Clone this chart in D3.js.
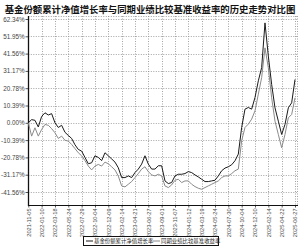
<!DOCTYPE html>
<html>
<head>
<meta charset="utf-8">
<script src="https://cdn.jsdelivr.net/npm/d3@7/dist/d3.min.js"></script>
<style>
  html, body { margin: 0; padding: 0; background: #fff; }
  svg { display: block; }
</style>
</head>
<body>
<div id="chart"></div>
<script>
/* fund vs benchmark cumulative return, 4 samples per x tick interval */
var title = '基金份额累计净值增长率与同期业绩比较基准收益率的历史走势对比图';
var seriesNames = ['基金份额累计净值增长率', '同期业绩比较基准收益率'];

var yTicks = [62.34, 51.95, 41.56, 31.17, 20.78, 10.39, 0.00, -10.39, -20.78, -31.17, -41.56];

var xLabels = [
  '2021-11-05', '2022-01-10', '2022-03-18', '2022-05-24', '2022-07-29',
  '2022-10-04', '2022-12-09', '2023-02-14', '2023-04-21', '2023-06-27',
  '2023-09-01', '2023-11-07', '2024-01-12', '2024-03-19', '2024-05-24',
  '2024-07-30', '2024-10-04', '2024-12-10', '2025-02-14', '2025-04-22',
  '2025-06-27'
];

var fundValues = [
  0, 1.9, 1.5, -2.5, 3.8, 6, 4.7, 5.5, 0, -2.8,
  -1.5, -5.7, -7.6, -9.4, -13.2, -16, -17, -20.8, -24.6, -24,
  -19.8, -20.8, -22.7, -18, -19.8, -21.7, -23.6, -27,
  -32.9, -32.9, -31.9, -32.9, -29.9, -27.8, -24.8, -19.8, -24.8, -27.8,
  -27.8, -25.8, -25.8, -34.9, -36.5, -35.9, -31.9, -30.9, -30.9, -30.5,
  -29.3, -29.9, -31.3, -32.5, -33.9, -35.3, -35.3, -34.9, -34.5, -31.9,
  -28.8, -27.2, -26.4, -25.2, -22.8, -18.8,
  -2.8, 8.2, 9.2, 8.2, 15.2, 25.2, 33.2, 60, 40, 23,
  9, 1, -7, -1, 9, 12, 26
];

var benchValues = [
  0, -8, -3, -8, -4, -1, -1.5, -3.5, -6, -9.4,
  -8, -10.5, -11, -13, -15.5, -18, -19.8, -22.7, -26, -28.3,
  -26, -25, -26, -23.6, -24.6, -26.4, -28.3, -32,
  -37.9, -38.5, -36.9, -35.3, -32.9, -30.5, -27.8, -26.4, -29.3, -31.3,
  -31.9, -30.9, -31.9, -37.9, -38.9, -37.3, -34.5, -33.9, -35.9, -34.9,
  -34.9, -36.9, -38.3, -39.3, -39.9, -38.9, -37.9, -36.9, -35.9, -34.9,
  -32.9, -31.9, -31.9, -30.5, -28.8, -27.8,
  -10.8, -2.8, -0.8, 2.2, 7.2, 17.2, 27.2, 45, 33, 15,
  1, -7, -15, -7, 3, 5, 15
];

var W = 300, H = 247;
var left = 28.3, right = 295, plotTop = 16, plotBottom = 205;
var frameRight = 297;
var FONT = 'Liberation Sans, Arial, sans-serif';
var CJK = 'Noto Sans CJK SC, sans-serif';

var svg = d3.select('#chart').append('svg')
  .attr('width', W).attr('height', H);

var x = d3.scaleLinear().domain([0, xLabels.length - 1]).range([left, right]);
var y = d3.scaleLinear().domain([-41.56, 62.34]).range([192, 19]);
var step = 0.25; // samples per tick interval

/* title */
svg.append('text')
  .attr('x', W / 2).attr('y', 13)
  .attr('text-anchor', 'middle')
  .attr('font-family', CJK).attr('font-weight', 'bold')
  .attr('font-size', 9.4).attr('fill', '#111')
  .text(title);

/* grid */
var grid = svg.append('g')
  .attr('stroke', '#8c8c8c').attr('stroke-width', 0.8)
  .attr('stroke-dasharray', '1,1.5');
grid.selectAll('line.h').data(yTicks).enter().append('line')
  .attr('x1', left).attr('x2', frameRight)
  .attr('y1', function (d) { return Math.round(y(d)) + 0.5; })
  .attr('y2', function (d) { return Math.round(y(d)) + 0.5; });
grid.selectAll('line.v').data(d3.range(1, xLabels.length)).enter().append('line')
  .attr('x1', function (d) { return Math.round(x(d)) + 0.5; })
  .attr('x2', function (d) { return Math.round(x(d)) + 0.5; })
  .attr('y1', plotTop).attr('y2', plotBottom);
grid.append('line')
  .attr('x1', left).attr('x2', frameRight)
  .attr('y1', plotTop + 0.5).attr('y2', plotTop + 0.5);
grid.append('line')
  .attr('x1', frameRight + 0.5).attr('x2', frameRight + 0.5)
  .attr('y1', plotTop).attr('y2', plotBottom);

/* y axis */
var yAxis = d3.axisLeft(y).tickValues(yTicks).tickSize(3)
  .tickFormat(function (d) { return d.toFixed(2) + '%'; });
var gy = svg.append('g')
  .attr('transform', 'translate(' + (Math.round(left) + 0.5) + ',0)')
  .call(yAxis);
gy.select('.domain').remove();
gy.selectAll('.tick line').attr('stroke', '#555');
gy.selectAll('.tick text')
  .attr('font-family', FONT).attr('font-size', 6.3)
  .attr('fill', '#444').attr('x', -4);

/* x axis */
var xAxis = d3.axisBottom(x).tickValues(d3.range(xLabels.length)).tickSize(2)
  .tickFormat(function (d) { return xLabels[d]; });
var gx = svg.append('g')
  .attr('transform', 'translate(0,' + (plotBottom + 0.5) + ')')
  .call(xAxis);
gx.select('.domain').remove();
gx.selectAll('.tick line').attr('stroke', '#555');
gx.selectAll('.tick text')
  .attr('font-family', FONT).attr('font-size', 5.6).attr('fill', '#444')
  .attr('transform', 'rotate(-90)')
  .attr('text-anchor', 'end')
  .attr('x', -3).attr('y', 0).attr('dy', '0.35em');

/* axis lines */
svg.append('line')
  .attr('x1', Math.round(left) + 0.5).attr('x2', Math.round(left) + 0.5)
  .attr('y1', plotTop).attr('y2', plotBottom + 1)
  .attr('stroke', '#111').attr('stroke-width', 1.3);
svg.append('line')
  .attr('x1', left).attr('x2', frameRight + 1)
  .attr('y1', plotBottom + 0.5).attr('y2', plotBottom + 0.5)
  .attr('stroke', '#111').attr('stroke-width', 1);

/* series */
var line = d3.line()
  .x(function (d, i) { return x(i * step); })
  .y(function (d) { return y(d); });

svg.append('path').datum(benchValues)
  .attr('d', line).attr('fill', 'none')
  .attr('stroke', '#8a8a8a').attr('stroke-width', 1);
svg.append('path').datum(fundValues)
  .attr('d', line).attr('fill', 'none')
  .attr('stroke', '#1a1a1a').attr('stroke-width', 1);

/* legend */
var lx = 83, ly = 236, lw = 135, lh = 9;
svg.append('rect')
  .attr('x', lx + 0.5).attr('y', ly + 0.5)
  .attr('width', lw).attr('height', lh)
  .attr('fill', '#fff').attr('stroke', '#111').attr('stroke-width', 1);
var legendColors = ['#1a1a1a', '#8a8a8a'];
seriesNames.forEach(function (name, i) {
  var ox = lx + 3 + i * 67;
  svg.append('line')
    .attr('x1', ox).attr('x2', ox + 7)
    .attr('y1', ly + 5).attr('y2', ly + 5)
    .attr('stroke', legendColors[i]).attr('stroke-width', 1);
  svg.append('text')
    .attr('x', ox + 8).attr('y', ly + 7.3)
    .attr('font-family', CJK).attr('font-size', 5.4)
    .attr('fill', '#222')
    .text(name);
});
</script>
</body>
</html>
